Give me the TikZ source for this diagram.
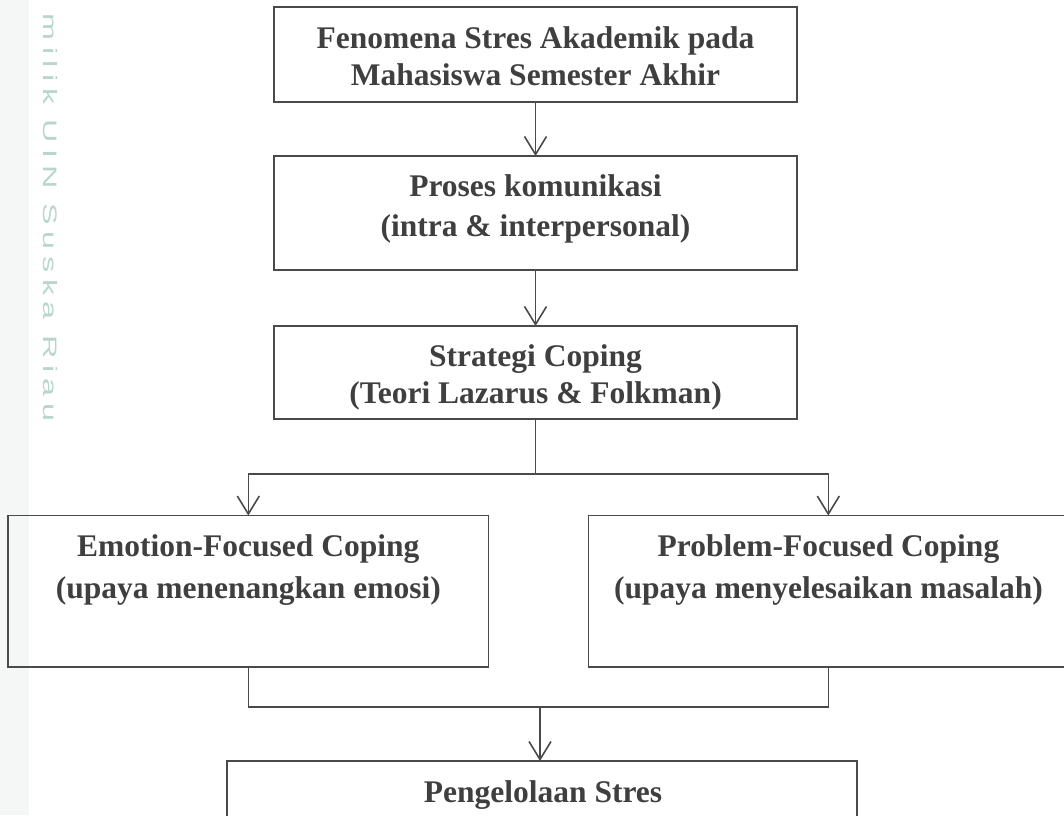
\documentclass[tikz,border=0pt]{standalone}
\usepackage{fontspec}
\setmainfont{Liberation Serif}
\newfontfamily\wmfont[LetterSpace=20]{Liberation Sans}
\usetikzlibrary{arrows.meta}
\definecolor{linec}{HTML}{4A4A4A}
\definecolor{textc}{HTML}{3F3F3F}
\definecolor{wmc}{RGB}{184,214,202}
\definecolor{stripc}{HTML}{F5F6F6}
\begin{document}
\begin{tikzpicture}[x=1pt,y=-1pt,
  box/.style={draw=linec, line width=1.5pt, inner sep=0pt, outer sep=0pt},
  txt/.style={text=textc, align=center, inner sep=0pt, anchor=base,
    font=\bfseries\fontsize{31.5}{#1}\selectfont},
  txt/.default=38,
  conn/.style={draw=linec, line width=1.6pt},
  arr/.style={conn, -{Straight Barb[length=18pt,width=22pt]}},
  wm/.style={text=wmc, inner sep=0pt, font=\wmfont\fontsize{19.5}{20}\selectfont}
]
\useasboundingbox (0,0) rectangle (1064,815);
\clip (0,0) rectangle (1064,815);
\fill[stripc] (0,0) rectangle (29,815);
\node[wm, rotate=-90] (wmark) at (50,217.5) {\scalebox{1.66}[1]{milik UIN Suska Riau}};

% boxes
\node[box, minimum width=523pt, minimum height=95pt] (b1) at (535.5,54.5) {};
\node[box, minimum width=523pt, minimum height=114pt] (b2) at (535.5,213) {};
\node[box, minimum width=523pt, minimum height=93pt] (b3) at (535.5,372.5) {};
\node[box, minimum width=480.6pt, minimum height=151.5pt] (b4) at (248.3,591.3) {};
\node[box, minimum width=480pt, minimum height=151.5pt] (b5) at (828.3,591.3) {};
\node[box, minimum width=630pt, minimum height=100pt] (b6) at (542,811) {};

% texts (base anchor = baseline of the last line)
\node[txt=37] (t1) at (535.5,85) {Fenomena Stres Akademik pada\\Mahasiswa Semester Akhir};
\node[txt=40] (t2) at (535.5,236) {Proses komunikasi\\(intra \& interpersonal)};
\node[txt=37] (t3) at (535.5,403) {Strategi Coping\\(Teori Lazarus \& Folkman)};
\node[txt=42] (t4) at (248.3,598) {Emotion-Focused Coping\\(upaya menenangkan emosi)};
\node[txt=42] (t5) at (828.5,598) {Problem-Focused Coping\\(upaya menyelesaikan masalah)};
\node[txt] (t6) at (543,802) {Pengelolaan Stres};

% connectors
\coordinate (j1) at (535.5,474);
\coordinate (j2) at (540,707);
\draw[arr] (b1.south) -- (b2.north);
\draw[arr] (b2.south) -- (b3.north);
\draw[conn] (b3.south) -- (j1);
\draw[arr] (j1) -| (b4.north);
\draw[arr] (j1) -| (b5.north);
\draw[conn] (b4.south) |- (j2);
\draw[conn] (b5.south) |- (j2);
\draw[arr] (j2) -- (j2 |- b6.north);
\end{tikzpicture}
\end{document}
